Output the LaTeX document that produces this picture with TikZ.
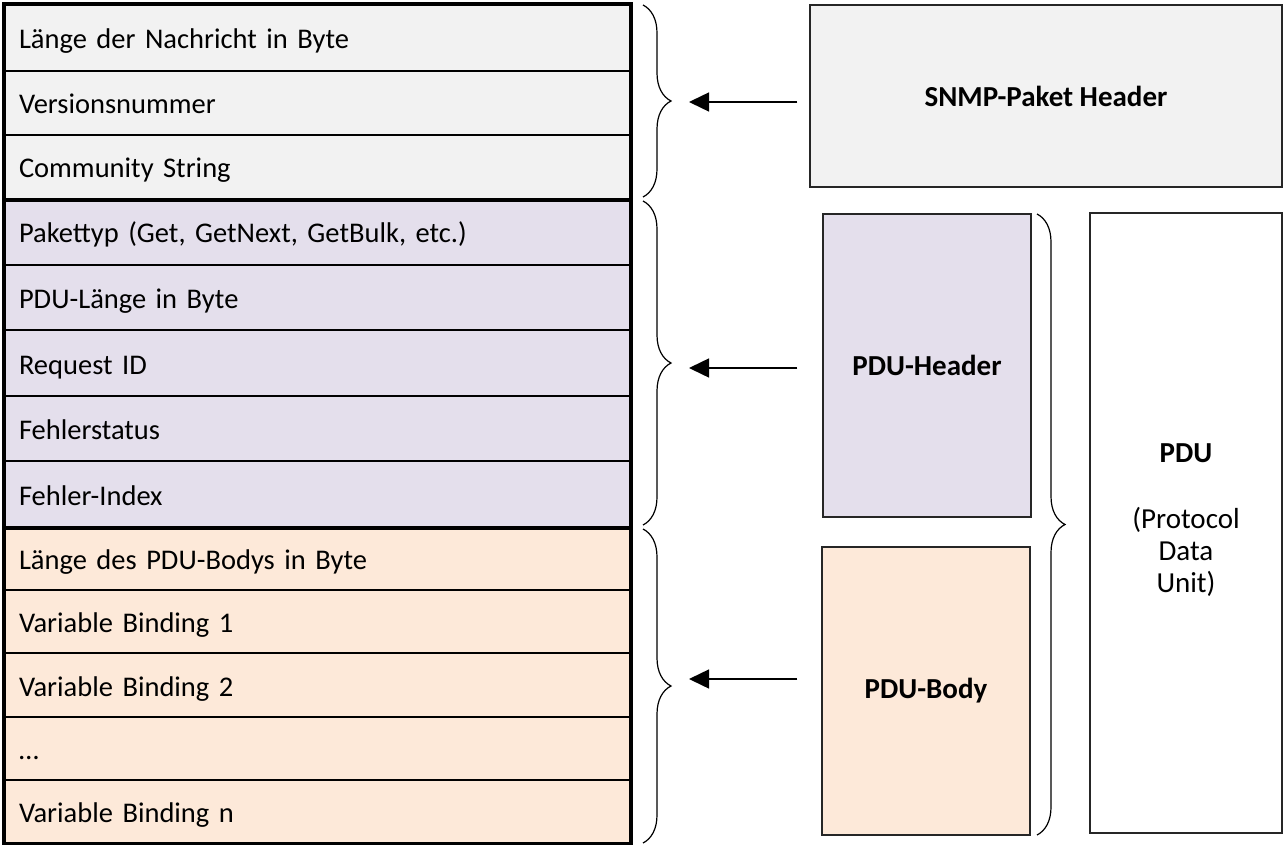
\documentclass[tikz,border=0pt]{standalone}
\usepackage{fontspec}
\setmainfont{Carlito}
\usetikzlibrary{arrows.meta,decorations.pathreplacing}
\definecolor{cgray}{HTML}{F2F2F2}
\definecolor{clav}{HTML}{E4DFEC}
\definecolor{cpeach}{HTML}{FDE9D9}
\begin{document}
\begin{tikzpicture}[x=1pt,y=-1pt,
  row/.style={draw=black,line width=2pt,rectangle,minimum width=625pt,text width=597pt,inner xsep=14pt,inner ysep=0pt,text height=26pt,text depth=4pt,align=left,font=\fontsize{28.5}{32}\selectfont},
  box/.style={draw=black!85,line width=1.5pt,rectangle,inner sep=0pt,align=center,font=\fontsize{29}{32}\selectfont},
  brc/.style={decorate,decoration={brace,amplitude=28pt},line width=1.2pt},
  arr/.style={-{Triangle[length=20pt,width=19pt]},line width=1.5pt}]
\useasboundingbox (0,0) rectangle (1284,845);
% rows
\node[row,fill=cgray,minimum height=66pt] (r1) at (317.5,38) {Länge der Nachricht in Byte};
\node[row,fill=cgray,minimum height=64pt] (r2) at (317.5,103) {Versionsnummer};
\node[row,fill=cgray,minimum height=64pt] (r3) at (317.5,167) {Community String};
\node[row,fill=clav,minimum height=65.6pt] (r4) at (317.5,231.8) {Pakettyp (Get, GetNext, GetBulk, etc.)};
\node[row,fill=clav,minimum height=65.6pt] (r5) at (317.5,297.4) {PDU-Länge in Byte};
\node[row,fill=clav,minimum height=65.6pt] (r6) at (317.5,363.0) {Request ID};
\node[row,fill=clav,minimum height=65.6pt] (r7) at (317.5,428.6) {Fehlerstatus};
\node[row,fill=clav,minimum height=65.6pt] (r8) at (317.5,494.2) {Fehler-Index};
\node[row,fill=cpeach,minimum height=63.2pt] (r9) at (317.5,558.6) {Länge des PDU-Bodys in Byte};
\node[row,fill=cpeach,minimum height=63.2pt] (r10) at (317.5,621.8) {Variable Binding 1};
\node[row,fill=cpeach,minimum height=63.2pt] (r11) at (317.5,685.0) {Variable Binding 2};
\node[row,fill=cpeach,minimum height=63.2pt] (r12) at (317.5,748.2) {…};
\node[row,fill=cpeach,minimum height=63.2pt] (r13) at (317.5,811.4) {Variable Binding n};
% thick borders
\draw[line width=4.5pt] (r1.north west) rectangle (r13.south east);
\draw[line width=4.5pt] (r3.south west) -- (r3.south east);
\draw[line width=4.5pt] (r8.south west) -- (r8.south east);
% braces
\draw[brc] (643,5) -- (643,197);
\draw[brc] (643,201) -- (643,525);
\draw[brc] (643,529) -- (643,843);
\draw[brc] (1037,214) -- (1037,835);
% right boxes
\node[box,fill=cgray,minimum width=472pt,minimum height=182pt] (snmp) at (1046,96) {\textbf{SNMP-Paket Header}};
\node[box,fill=clav,minimum width=208pt,minimum height=303pt] (ph) at (927,365.5) {\textbf{PDU-Header}};
\node[box,fill=cpeach,minimum width=208pt,minimum height=288pt] (pb) at (926,691) {\textbf{PDU-Body}};
\node[box,fill=white,minimum width=192pt,minimum height=620pt] (pdu) at (1186,523) {\textbf{PDU}\\[34pt](Protocol\\Data\\Unit)\\[-22pt]\mbox{}};
% arrows
\coordinate (a1) at (689,102);
\coordinate (a2) at (689,368);
\coordinate (a3) at (689,679);
\draw[arr] ([xshift=-12pt]snmp.west |- a1) -- (a1);
\draw[arr] ([xshift=-25pt]ph.west |- a2) -- (a2);
\draw[arr] ([xshift=-24pt]pb.west |- a3) -- (a3);
\end{tikzpicture}
\end{document}
